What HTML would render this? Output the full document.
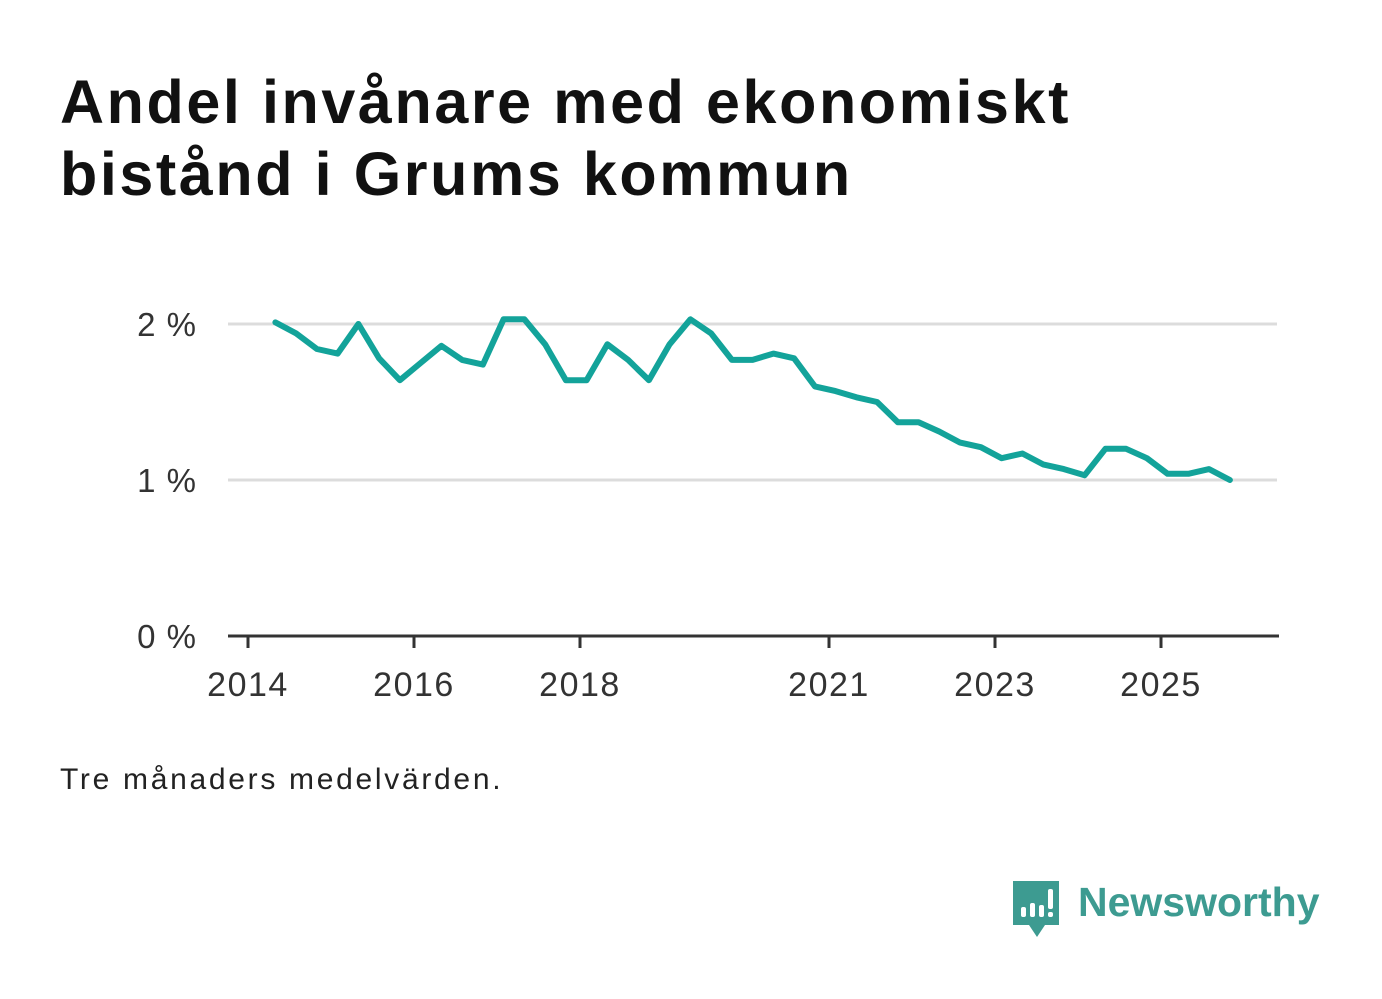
<!DOCTYPE html>
<html><head><meta charset="utf-8"><style>
body{margin:0;width:1382px;height:999px;background:#fff;font-family:"Liberation Sans",sans-serif;position:relative;overflow:hidden}
h1{position:absolute;left:60px;top:66px;margin:0;font-size:61px;line-height:72px;font-weight:bold;color:#111;letter-spacing:2.6px}
.note{position:absolute;left:60px;top:763px;font-size:30px;color:#222;letter-spacing:2.7px}
.logo{position:absolute;left:1078px;top:879px;font-size:41px;font-weight:bold;color:#3d9b91}
</style></head><body>
<h1>Andel invånare med ekonomiskt<br>bistånd i Grums kommun</h1>
<svg width="1382" height="999" style="position:absolute;left:0;top:0" id="chart"></svg>
<div class="note">Tre månaders medelvärden.</div>
<svg width="52" height="62" style="position:absolute;left:1011px;top:879px" viewBox="0 0 52 62">
<path d="M2 2h46v44H34l-8 12-8-12H2z" fill="#3d9b91"/>
<rect x="10" y="28" width="5" height="10" rx="2" fill="#fff"/><rect x="19" y="24" width="5" height="14" rx="2" fill="#fff"/><rect x="28" y="26" width="5" height="12" rx="2" fill="#fff"/><rect x="37" y="10" width="5" height="20" rx="2" fill="#fff"/><rect x="37" y="33" width="5" height="5" rx="2" fill="#fff"/>
</svg>
<div class="logo">Newsworthy</div>
<script>
const values=[2.01,1.94,1.84,1.81,2.0,1.78,1.64,1.75,1.86,1.77,1.74,2.03,2.03,1.87,1.64,1.64,1.87,1.77,1.64,1.87,2.03,1.94,1.77,1.77,1.81,1.78,1.60,1.57,1.53,1.50,1.37,1.37,1.31,1.24,1.21,1.14,1.17,1.10,1.07,1.03,1.20,1.20,1.14,1.04,1.04,1.07,1.0];
const startYear=2014.33;
const yTicks=[0,1,2];
const xTicks=[2014,2016,2018,2021,2023,2025];
const NS="http://www.w3.org/2000/svg";
const svg=document.getElementById('chart');
const x=t=>248+(t-2014)*83;
const y=v=>636-v*156;
function mk(tag,attrs,text){const e=document.createElementNS(NS,tag);for(const k in attrs)e.setAttribute(k,attrs[k]);if(text!==undefined)e.textContent=text;svg.appendChild(e);return e;}
yTicks.forEach(v=>{
 if(v>0){const g=mk('line',{x1:228,x2:1277,y1:y(v),y2:y(v),stroke:'#dcdcdc','stroke-width':3});
 
 }
 const t=mk('text',{x:197,y:y(v)+12,'text-anchor':'end','font-size':33,'letter-spacing':1,fill:'#333','font-family':'Liberation Sans'},v+' %');
 
 
});
const ax=mk('line',{x1:228,x2:1279,y1:636,y2:636,stroke:'#333','stroke-width':3});


xTicks.forEach(yr=>{
 const tk=mk('line',{x1:x(yr),x2:x(yr),y1:636,y2:648,stroke:'#333','stroke-width':3});
 
 
 const t=mk('text',{x:x(yr),y:696,'text-anchor':'middle','font-size':34,'letter-spacing':1.5,fill:'#333','font-family':'Liberation Sans'},yr);
 
 
});
const pts=values.map((v,i)=>x(startYear+i*0.25).toFixed(1)+','+y(v).toFixed(1)).join(' ');
const line=mk('polyline',{points:pts,fill:'none',stroke:'#13a39a','stroke-width':6,'stroke-linejoin':'round','stroke-linecap':'round'});


</script>
</body></html>
